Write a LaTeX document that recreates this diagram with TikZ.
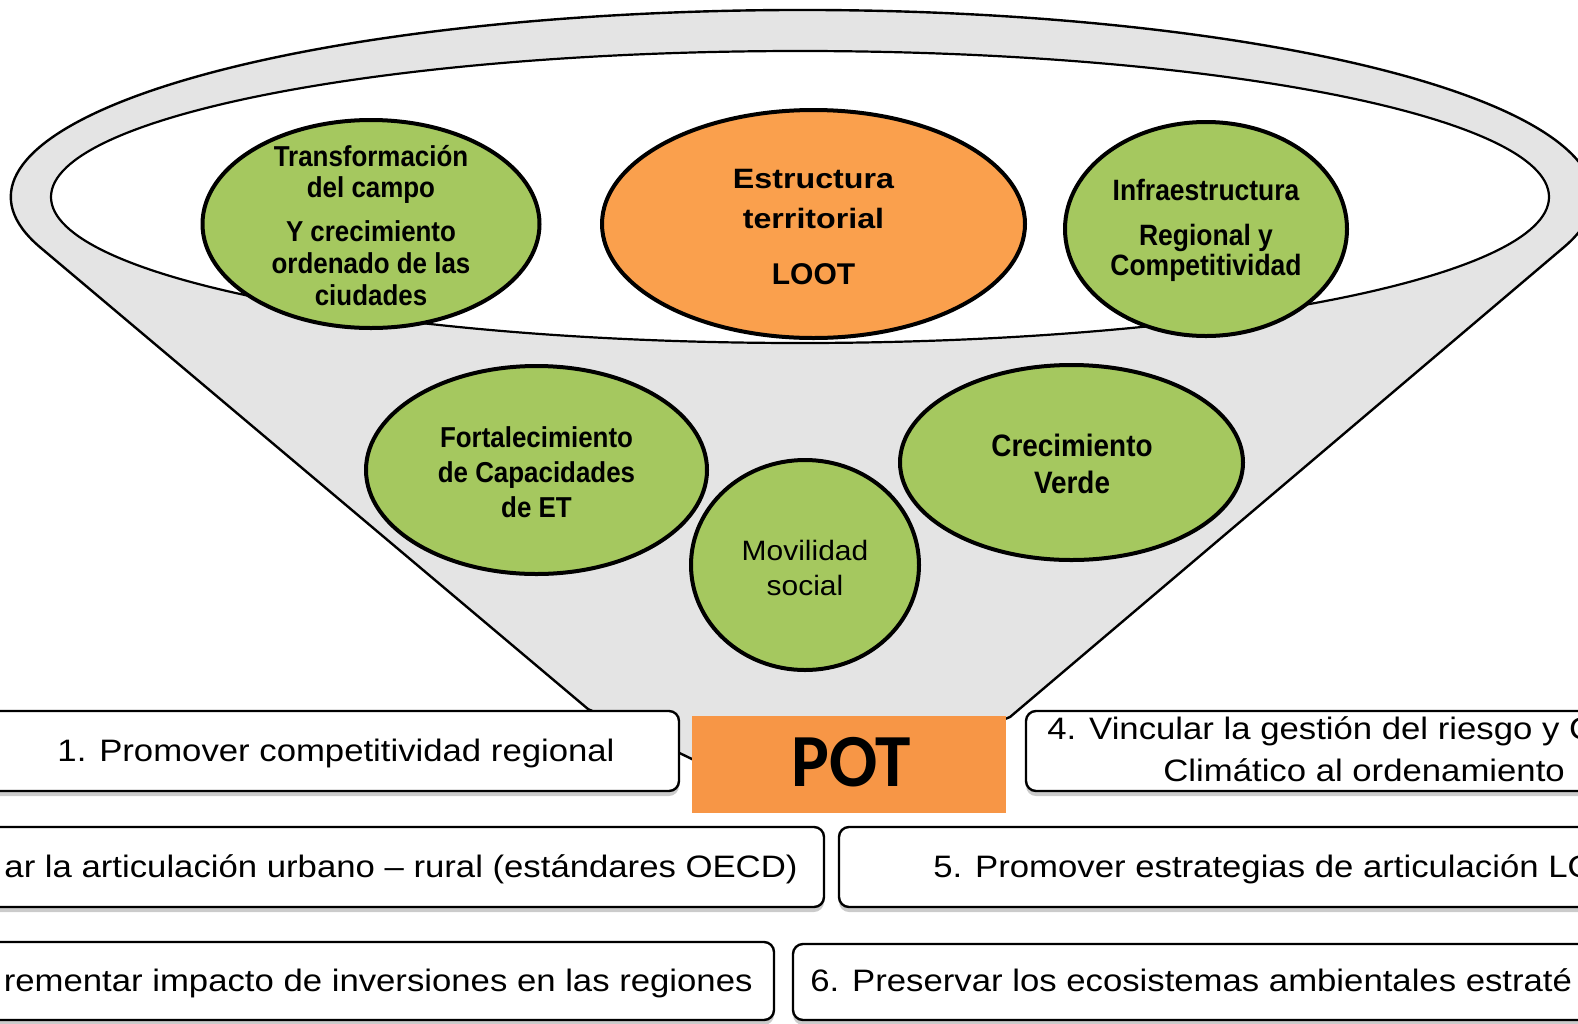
\documentclass[tikz,border=0pt]{standalone}
\usepackage{fontspec}
\setmainfont{Liberation Sans}
\newfontfamily\boxfont{Liberation Sans}[FakeStretch=1.12]
\newfontfamily\ellfont{Liberation Sans}[FakeStretch=0.9]
\newfontfamily\estfont{Liberation Sans}[FakeStretch=1.15]
\newfontfamily\movfont{Liberation Sans}[FakeStretch=1.07]
\newfontfamily\potfont{Carlito}[FakeStretch=0.95]
\usetikzlibrary{shapes.geometric,shadows}
\definecolor{funnelgray}{RGB}{228,228,228}
\definecolor{ellgreen}{RGB}{165,200,95}
\definecolor{ellorange}{RGB}{250,160,77}
\definecolor{potorange}{RGB}{247,150,70}
\tikzset{
  funnelst/.style={fill=funnelgray, draw=black, line width=1.2pt, line join=round},
  openst/.style={fill=white, draw=black, line width=1.1pt},
  greenell/.style={ellipse, draw=black, line width=2pt, fill=ellgreen, inner sep=0pt},
  orangeell/.style={ellipse, draw=black, line width=2pt, fill=ellorange, inner sep=0pt},
  boxst/.style={rectangle, draw=black, line width=1.2pt, rounded corners=5pt, fill=white, inner sep=0pt,
    drop shadow={shadow xshift=0pt, shadow yshift=-2.5pt, fill=black!45, opacity=0.45}},
  potst/.style={rectangle, fill=potorange, inner sep=0pt},
  lbl/.style={anchor=base, inner sep=0pt},
  lblw/.style={anchor=base west, inner sep=0pt},
  lble/.style={anchor=base east, inner sep=0pt},
  boxtxt/.style={font=\boxfont\fontsize{15.5pt}{17pt}\selectfont},
  elltxt/.style={font=\ellfont\bfseries\fontsize{14.4pt}{16pt}\selectfont},
}
\begin{document}
\begin{tikzpicture}[x=0.5pt,y=0.5pt]
\useasboundingbox (0,0) rectangle (1578,-1023);
\clip (0,0) rectangle (1578,-1023);
% funnel
\draw[funnelst] (40.5,-247.6) arc[start angle=195.7, end angle=-15.7, x radius=791, y radius=187]
  -- (1010,-717) -- (905,-760) -- (694,-760) -- (588,-709) -- cycle;
\draw[openst] (800,-197) ellipse[x radius=749, y radius=146];
% ellipses
\node[greenell, minimum width=168.5pt, minimum height=104pt] (e1) at (371,-224) {};
\node[orangeell, minimum width=211.5pt, minimum height=114pt] (e2) at (813.5,-224) {};
\node[greenell, minimum width=141pt, minimum height=107pt] (e3) at (1206,-229) {};
\node[greenell, minimum width=170.5pt, minimum height=104pt] (e4) at (536.5,-470) {};
\node[greenell, minimum width=114pt, minimum height=105pt] (e5) at (805,-565) {};
\node[greenell, minimum width=171.5pt, minimum height=97.5pt] (e6) at (1071.5,-462.5) {};
% ellipse texts
\node[lbl, elltxt] (e1a) at (371,-166) {Transformación};
\node[lbl, elltxt] (e1b) at (371,-197) {del campo};
\node[lbl, elltxt] (e1c) at (371,-241.5) {Y crecimiento};
\node[lbl, elltxt] (e1d) at (371,-273) {ordenado de las};
\node[lbl, elltxt] (e1e) at (371,-305) {ciudades};
\node[lbl, font=\estfont\bfseries\fontsize{14pt}{16pt}\selectfont] (e2a) at (813.5,-188.7) {Estructura};
\node[lbl, font=\estfont\bfseries\fontsize{14pt}{16pt}\selectfont] (e2b) at (813.5,-228) {territorial};
\node[lbl, font=\bfseries\fontsize{15pt}{17pt}\selectfont] (e2c) at (813.5,-284.7) {LOOT};
\node[lbl, font=\ellfont\bfseries\fontsize{14.7pt}{16pt}\selectfont] (e3a) at (1206,-200.7) {Infraestructura};
\node[lbl, font=\ellfont\bfseries\fontsize{14.7pt}{16pt}\selectfont] (e3b) at (1206,-245) {Regional y};
\node[lbl, font=\ellfont\bfseries\fontsize{14.7pt}{16pt}\selectfont] (e3c) at (1206,-275) {Competitividad};
\node[lbl, elltxt] (e4a) at (536.5,-447) {Fortalecimiento};
\node[lbl, elltxt] (e4b) at (536.5,-482) {de Capacidades};
\node[lbl, elltxt] (e4c) at (536.5,-517) {de ET};
\node[lbl, font=\movfont\fontsize{14pt}{16pt}\selectfont] (e5a) at (805,-560) {Movilidad};
\node[lbl, font=\movfont\fontsize{14pt}{16pt}\selectfont] (e5b) at (805,-595) {social};
\node[lbl, font=\ellfont\bfseries\fontsize{15.5pt}{17pt}\selectfont] (e6a) at (1072,-456.7) {Crecimiento};
\node[lbl, font=\ellfont\bfseries\fontsize{15.5pt}{17pt}\selectfont] (e6b) at (1072,-493.3) {Verde};
% boxes
\node[boxst, minimum width=349pt, minimum height=40pt] (b1) at (330,-751) {};
\node[boxst, minimum width=336.5pt, minimum height=40pt] (b4) at (1362.5,-751) {};
\node[boxst, minimum width=421.5pt, minimum height=40pt] (b2) at (402.5,-867) {};
\node[boxst, minimum width=430pt, minimum height=40pt] (b5) at (1269,-867) {};
\node[boxst, minimum width=396.5pt, minimum height=39pt] (b3) at (377.5,-981) {};
\node[boxst, minimum width=453pt, minimum height=38pt] (b6) at (1246,-982) {};
\node[potst, minimum width=157pt, minimum height=48.5pt] (pot) at (849,-764.5) {};
% box texts
\node[lbl, boxtxt] (t1) at (336,-761) {1. Promover competitividad regional};
\node[lble, boxtxt] (t2) at (798,-877) {ar la articulación urbano – rural (estándares OECD)};
\node[lble, boxtxt] (t3) at (753,-991) {rementar impacto de inversiones en las regiones};
\node[lblw, boxtxt] (t4a) at (1047,-739) {4. Vincular la gestión del riesgo y C};
\node[lblw, boxtxt] (t4b) at (1163,-781) {Climático al ordenamiento};
\node[lblw, boxtxt] (t5) at (933,-877) {5. Promover estrategias de articulación LO};
\node[lblw, boxtxt] (t6) at (810,-991) {6. Preservar los ecosistemas ambientales estraté};
\node[lbl, font=\potfont\bfseries\fontsize{37.5pt}{40pt}\selectfont] (pott) at (851,-786) {POT};
\end{tikzpicture}
\end{document}
